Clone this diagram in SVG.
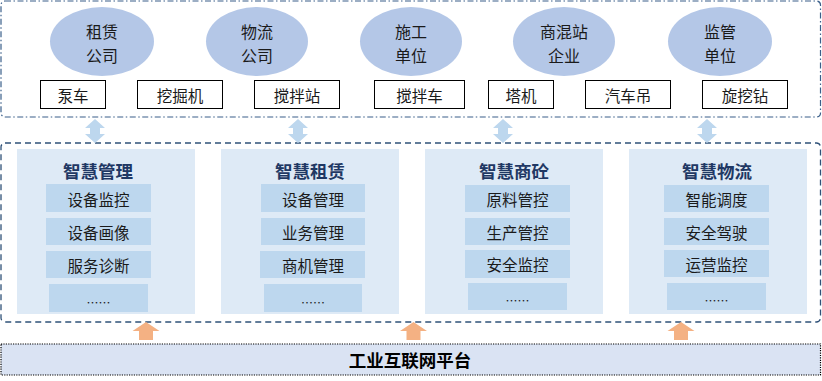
<svg xmlns="http://www.w3.org/2000/svg" width="822" height="381" viewBox="0 0 822 381">
<defs>
<style>
text{font-family:"Noto Sans CJK SC","Liberation Sans",sans-serif;dominant-baseline:central;text-anchor:middle;fill:#1a1a1a}
.org{fill:#b4c7e7}
.ot{font-size:16px}
.eq{fill:#fff;stroke:#000;stroke-width:1}
.et{font-size:15.5px}
.panel{fill:#deeaf6}
.sub{fill:#bdd7ee}
.st{font-size:15.5px}
.tt{font-size:17.5px;font-weight:bold;fill:#1f3864}
.dots{font-size:12px}
.da{fill:#bdd7ee}
.ua{fill:#f4b183}
</style>
</defs>
<rect x="1" y="1" width="819.5" height="116" rx="4" fill="#fff" stroke="#3a5f8a" stroke-width="1.2" stroke-dasharray="6 2.5 1.5 2.5"/>
<rect x="1" y="143" width="819.5" height="179" rx="4" fill="#fff" stroke="#2f5178" stroke-width="1.3" stroke-dasharray="6 4"/>
<g id="org-zulin"><ellipse class="org" cx="102" cy="41.5" rx="52" ry="34.5"/><text class="ot"><tspan x="102" y="31">租赁</tspan><tspan x="102" y="54.5">公司</tspan></text></g>
<g id="org-wuliu"><ellipse class="org" cx="257" cy="41.5" rx="51" ry="34.5"/><text class="ot"><tspan x="257" y="31">物流</tspan><tspan x="257" y="54.5">公司</tspan></text></g>
<g id="org-shigong"><ellipse class="org" cx="411" cy="41.5" rx="51" ry="34.5"/><text class="ot"><tspan x="411" y="31">施工</tspan><tspan x="411" y="54.5">单位</tspan></text></g>
<g id="org-shanghun"><ellipse class="org" cx="564" cy="41.5" rx="51" ry="34.5"/><text class="ot"><tspan x="564" y="31">商混站</tspan><tspan x="564" y="54.5">企业</tspan></text></g>
<g id="org-jianguan"><ellipse class="org" cx="720" cy="41.5" rx="52" ry="34.5"/><text class="ot"><tspan x="720" y="31">监管</tspan><tspan x="720" y="54.5">单位</tspan></text></g>
<g id="eq-bengche"><rect class="eq" x="40.5" y="80.5" width="65" height="28"/><text class="et" x="73" y="94.5">泵车</text></g>
<g id="eq-wajueji"><rect class="eq" x="137.5" y="80.5" width="85" height="28"/><text class="et" x="180" y="94.5">挖掘机</text></g>
<g id="eq-jiaobanzhan"><rect class="eq" x="254.5" y="80.5" width="85" height="28"/><text class="et" x="297" y="94.5">搅拌站</text></g>
<g id="eq-jiaobanche"><rect class="eq" x="374.5" y="80.5" width="90" height="28"/><text class="et" x="419.5" y="94.5">搅拌车</text></g>
<g id="eq-taji"><rect class="eq" x="488.5" y="80.5" width="65" height="28"/><text class="et" x="521" y="94.5">塔机</text></g>
<g id="eq-qichediao"><rect class="eq" x="585.5" y="80.5" width="85" height="28"/><text class="et" x="628" y="94.5">汽车吊</text></g>
<g id="eq-xuanwazuan"><rect class="eq" x="702.5" y="80.5" width="85" height="28"/><text class="et" x="745" y="94.5">旋挖钻</text></g>
<g id="connectors">
<path class="da" d="M95 119 L105 128 L100 128 L100 134 L105 134 L95 143 L85 134 L90 134 L90 128 L85 128 Z"/>
<path class="da" d="M298 119 L308 128 L303 128 L303 134 L308 134 L298 143 L288 134 L293 134 L293 128 L288 128 Z"/>
<path class="da" d="M503 119 L513 128 L508 128 L508 134 L513 134 L503 143 L493 134 L498 134 L498 128 L493 128 Z"/>
<path class="da" d="M707 119 L717 128 L712 128 L712 134 L717 134 L707 143 L697 134 L702 134 L702 128 L697 128 Z"/>
<path class="ua" d="M146 322 L159.5 331 L153 331 L153 340 L139 340 L139 331 L132.5 331 Z"/>
<path class="ua" d="M413.5 322 L427 331 L420.5 331 L420.5 340 L406.5 340 L406.5 331 L400 331 Z"/>
<path class="ua" d="M681 322 L694.5 331 L688 331 L688 340 L674 340 L674 331 L667.5 331 Z"/>
</g>
<g id="panel-guanli"><rect class="panel" x="17" y="149" width="178" height="165"/><text class="tt" x="98" y="170">智慧管理</text>
<rect class="sub" x="46" y="184" width="105" height="28"/><text class="st" x="98.5" y="198.5">设备监控</text>
<rect class="sub" x="46" y="218" width="105" height="27"/><text class="st" x="98.5" y="231.5">设备画像</text>
<rect class="sub" x="46" y="251" width="105" height="27"/><text class="st" x="98.5" y="264.5">服务诊断</text>
<rect class="sub" x="49" y="284" width="99" height="28"/><text class="dots" x="98.5" y="302">……</text></g>
<g id="panel-zulin"><rect class="panel" x="221" y="149" width="178" height="165"/><text class="tt" x="310" y="170">智慧租赁</text>
<rect class="sub" x="261" y="184" width="104" height="28"/><text class="st" x="313" y="198.5">设备管理</text>
<rect class="sub" x="261" y="218" width="104" height="27"/><text class="st" x="313" y="231.5">业务管理</text>
<rect class="sub" x="260" y="251" width="105" height="27"/><text class="st" x="313" y="264.5">商机管理</text>
<rect class="sub" x="264" y="284" width="98" height="28"/><text class="dots" x="313" y="302">……</text></g>
<g id="panel-shangtong"><rect class="panel" x="425" y="149" width="178" height="165"/><text class="tt" x="514" y="170">智慧商砼</text>
<rect class="sub" x="465" y="185" width="105" height="27"/><text class="st" x="517.5" y="199">原料管控</text>
<rect class="sub" x="465" y="218" width="105" height="27"/><text class="st" x="517.5" y="231.5">生产管控</text>
<rect class="sub" x="465" y="250" width="105" height="28"/><text class="st" x="517.5" y="264">安全监控</text>
<rect class="sub" x="468" y="283" width="99" height="27"/><text class="dots" x="517.5" y="300.5">……</text></g>
<g id="panel-wuliu"><rect class="panel" x="629" y="149" width="178" height="165"/><text class="tt" x="717" y="170">智慧物流</text>
<rect class="sub" x="664" y="185" width="105" height="27"/><text class="st" x="716.5" y="199">智能调度</text>
<rect class="sub" x="664" y="218" width="105" height="27"/><text class="st" x="716.5" y="231.5">安全驾驶</text>
<rect class="sub" x="664" y="250" width="105" height="27"/><text class="st" x="716.5" y="263.5">运营监控</text>
<rect class="sub" x="667" y="283" width="99" height="27"/><text class="dots" x="716.5" y="300.5">……</text></g>
<g id="platform"><rect x="1" y="344" width="819.5" height="31" fill="#dae3f3" stroke="#000" stroke-width="1.2" stroke-dasharray="1.2 1.2"/><text x="410" y="359.5" style="font-size:17.5px;font-weight:bold;fill:#000">工业互联网平台</text></g>
</svg>
